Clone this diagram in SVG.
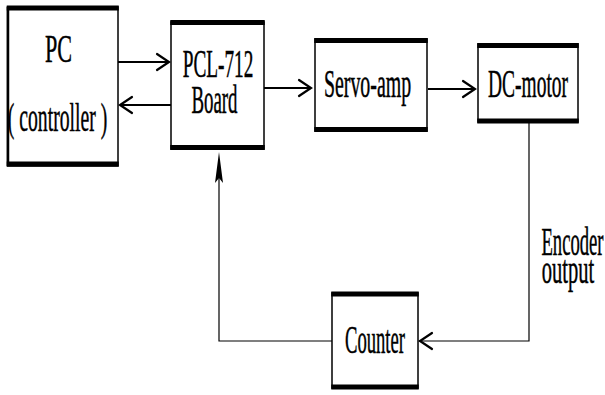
<svg xmlns="http://www.w3.org/2000/svg" width="605" height="395" viewBox="0 0 605 395">
<style>
.box{fill:#fff;stroke:#000;stroke-width:1.5}
.bar{stroke:#000;stroke-width:5}
.t{font-family:"Liberation Serif","Times New Roman",serif;font-size:41px;fill:#000;stroke:#000;stroke-width:0.5;text-anchor:middle}
.w{fill:none;stroke:#000;stroke-width:2}
.f{fill:none;stroke:#000;stroke-width:1.2}
.ah{fill:none;stroke:#000;stroke-width:2.2;stroke-linecap:round;stroke-linejoin:miter}
</style>
<rect width="605" height="395" fill="#fff"/>
<g id="edges">
  <line class="w" x1="118" y1="62" x2="169" y2="62"/>
  <polyline class="ah" points="157,54 169,62 157,70"/>
  <line class="w" x1="171" y1="105" x2="120" y2="105"/>
  <polyline class="ah" points="132,97 120,105 132,113"/>
  <line class="w" x1="264" y1="88" x2="311" y2="88"/>
  <polyline class="ah" points="299,80 311,88 299,96"/>
  <line class="w" x1="428" y1="89" x2="475" y2="89"/>
  <polyline class="ah" points="463,81 475,89 463,97"/>
  <polyline class="f" points="529,123 529,341 419,341"/>
  <polyline class="ah" points="432,333 420,341 432,349"/>
  <polyline class="f" points="332,341 219,341 219,170"/>
  <polygon points="219,152 215,183 219,178 223,183" fill="#000"/>
</g>
<g id="pc">
  <rect class="box" x="7.5" y="7" width="110.5" height="159"/>
  <line class="bar" x1="6.75" y1="8" x2="118.75" y2="8"/>
  <line class="bar" x1="6.75" y1="164" x2="118.75" y2="164"/>
  <line x1="8" y1="7" x2="8" y2="166" stroke="#000" stroke-width="2.5"/>
  <text class="t" transform="translate(58.5,62) scale(0.54,1)">PC</text>
  <text class="t" transform="translate(57.5,131) scale(0.48,1)">( controller )</text>
</g>
<g id="pcl">
  <rect class="box" x="171" y="22" width="93" height="127"/>
  <line class="bar" x1="170.25" y1="22.5" x2="264.75" y2="22.5"/>
  <line class="bar" x1="170.25" y1="147.5" x2="264.75" y2="147.5"/>
  <text class="t" transform="translate(218,77) scale(0.47,1)">PCL-712</text>
  <text class="t" transform="translate(214.5,113) scale(0.46,1)">Board</text>
</g>
<g id="servo">
  <rect class="box" x="315" y="39" width="112" height="92"/>
  <line class="bar" x1="314.25" y1="40.5" x2="427.75" y2="40.5"/>
  <line class="bar" x1="314.25" y1="129.5" x2="427.75" y2="129.5"/>
  <text class="t" transform="translate(367.5,97) scale(0.485,1)">Servo-amp</text>
</g>
<g id="dc">
  <rect class="box" x="478" y="44" width="100" height="78"/>
  <line class="bar" x1="477.25" y1="45.5" x2="578.75" y2="45.5"/>
  <line class="bar" x1="477.25" y1="121" x2="578.75" y2="121"/>
  <text class="t" transform="translate(528,97) scale(0.475,1)">DC-motor</text>
</g>
<g id="counter">
  <rect class="box" x="332" y="293" width="86" height="95"/>
  <line class="bar" x1="331.25" y1="294" x2="418.75" y2="294"/>
  <line class="bar" x1="331.25" y1="387" x2="418.75" y2="387"/>
  <text class="t" transform="translate(375,353) scale(0.455,1)">Counter</text>
</g>
<g id="label">
  <text class="t" transform="translate(572.5,255) scale(0.455,1)">Encoder</text>
  <text class="t" transform="translate(568,283) scale(0.5,1)">output</text>
</g>
</svg>
